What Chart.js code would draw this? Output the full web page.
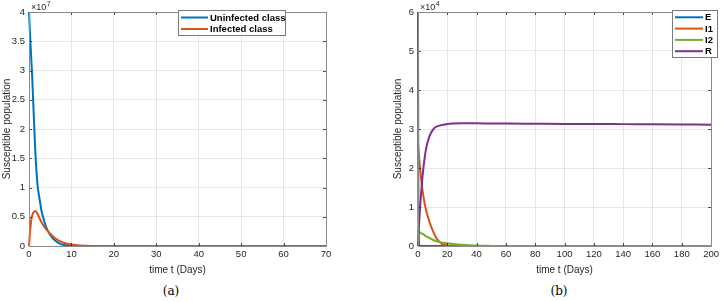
<!DOCTYPE html>
<html>
<head>
<meta charset="utf-8">
<script src="https://cdn.jsdelivr.net/npm/chart.js@4/dist/chart.umd.min.js"></script>
<style>
  html, body { margin:0; padding:0; background:#fff; overflow:hidden; width:722px; height:302px; }
  .wrap { position:absolute; top:0; height:280px; }
  #w1 { left:0; width:345px; }
  #w2 { left:380px; width:342px; }
  .cap { position:absolute; top:284px; font-family:"DejaVu Serif","Liberation Serif",serif; font-size:12px; color:#000; transform:translateX(-50%); }
</style>
</head>
<body>
<div class="wrap" id="w1"><canvas id="c1" width="345" height="280"></canvas></div>
<div class="wrap" id="w2"><canvas id="c2" width="342" height="280"></canvas></div>
<div class="cap" style="left:171px">(a)</div>
<div class="cap" style="left:559px">(b)</div>
<script>
// ---------- Panel (a) data (values in units of 10^7) ----------
const timeA = [0,0.25,0.5,0.75,1,1.5,2,2.5,3,3.5,4,4.5,5,6,7,8,9,10,12,15,20,30,40,50,60,70];
const uninfected = [4.0,3.6,3.25,2.9,2.45,1.6,1.05,0.8,0.58,0.45,0.33,0.25,0.19,0.1,0.05,0.02,0.008,0.003,0,0,0,0,0,0,0,0];
const infected   = [0,0.25,0.42,0.52,0.57,0.6,0.55,0.47,0.4,0.34,0.29,0.25,0.21,0.14,0.09,0.06,0.04,0.025,0.01,0.002,0,0,0,0,0,0];
const labelsA = ["Uninfected class","Infected class"];
const xTicksA = [0,10,20,30,40,50,60,70];
const yTicksA = [0,0.5,1,1.5,2,2.5,3,3.5,4];

// ---------- Panel (b) data (values in units of 10^4) ----------
const timeB = [0,0.25,0.5,1,2,3,4,5,6,7,8,10,12,14,16,20,25,30,40,50,60,80,100,120,140,160,180,200];
const seriesE  = [6,1.2,0.2,0.02,0,0,0,0,0,0,0,0,0,0,0,0,0,0,0,0,0,0,0,0,0,0,0,0];
const seriesI1 = [2.62,2.5,2.4,2.15,1.78,1.45,1.2,1.0,0.85,0.72,0.6,0.4,0.24,0.13,0.06,0.015,0.003,0,0,0,0,0,0,0,0,0,0,0];
const seriesI2 = [0.38,0.37,0.365,0.355,0.33,0.31,0.29,0.26,0.24,0.22,0.2,0.16,0.13,0.11,0.09,0.07,0.045,0.03,0.01,0.003,0,0,0,0,0,0,0,0];
const seriesR  = [0,0.2,0.4,0.75,1.3,1.75,2.1,2.38,2.58,2.72,2.83,2.97,3.05,3.08,3.1,3.13,3.14,3.145,3.145,3.14,3.14,3.135,3.13,3.13,3.125,3.12,3.115,3.11];
const labelsB = ["E","I1","I2","R"];
const xTicksB = [0,20,40,60,80,100,120,140,160,180,200];
const yTicksB = [0,1,2,3,4,5,6];

const COLORS = ['#0072BD','#D95319','#77AC30','#7E2F8E'];
const FONT = '"Liberation Sans", Arial, Helvetica, sans-serif';
const TICKCOL = '#262626';

function mkData(t, arr){ return t.map((x,i)=>({x:x, y:arr[i]})); }

function frame(opts){
  return {
    id:'frame',
    afterDatasetsDraw(chart){
      const {ctx, chartArea:a, scales} = chart;
      ctx.save();
      // inward ticks
      ctx.strokeStyle = '#262626'; ctx.lineWidth = 0.8;
      const tl = 3;
      scales.x.ticks.forEach(tk=>{
        const px = Math.round(scales.x.getPixelForValue(tk.value))+0.5;
        ctx.beginPath(); ctx.moveTo(px,a.bottom); ctx.lineTo(px,a.bottom-tl);
        ctx.moveTo(px,a.top); ctx.lineTo(px,a.top+tl); ctx.stroke();
      });
      scales.y.ticks.forEach(tk=>{
        const py = Math.round(scales.y.getPixelForValue(tk.value))+0.5;
        ctx.beginPath(); ctx.moveTo(a.left,py); ctx.lineTo(a.left+tl,py);
        ctx.moveTo(a.right,py); ctx.lineTo(a.right-tl,py); ctx.stroke();
      });
      // box
      ctx.strokeStyle = '#8a8a8a'; ctx.lineWidth = 1;
      ctx.strokeRect(Math.round(a.left)+0.5, Math.round(a.top)+0.5, Math.round(a.right-a.left), Math.round(a.bottom-a.top));
      // exponent
      ctx.fillStyle = TICKCOL;
      ctx.font = '9px ' + FONT;
      ctx.textBaseline = 'alphabetic';
      ctx.fillText('\u00d710', a.left+2, a.top-2);
      const w = ctx.measureText('\u00d710').width;
      ctx.font = '7px ' + FONT;
      ctx.fillText(opts.exp, a.left+2+w+0.5, a.top-6);
      // legend
      const L = opts.legend;
      const bx = a.left + L.dx, by = a.top + L.dy;
      ctx.fillStyle = '#fff';
      ctx.fillRect(bx, by, L.w, L.h);
      ctx.strokeStyle = '#7a7a7a'; ctx.lineWidth = 1;
      ctx.strokeRect(Math.round(bx)+0.5, Math.round(by)+0.5, L.w, L.h);
      chart.data.datasets.forEach((ds,i)=>{
        const yy = by + L.first + i*L.step;
        ctx.strokeStyle = ds.borderColor; ctx.lineWidth = 2;
        ctx.beginPath(); ctx.moveTo(bx+3, yy); ctx.lineTo(bx+3+L.line, yy); ctx.stroke();
        ctx.fillStyle = '#000';
        ctx.font = 'bold 9.5px ' + FONT;
        ctx.textBaseline = 'middle';
        ctx.fillText(ds.label, bx+5+L.line, yy+0.5);
      });
      ctx.restore();
    }
  };
}

function makeChart(id, t, series, labels, xt, yt, cfg){
  const n = series.length;
  const datasets = series.map((s,i)=>({
    label: labels[i],
    data: mkData(t, s),
    borderColor: COLORS[i],
    backgroundColor: COLORS[i],
    borderWidth: 2,
    pointRadius: 0,
    cubicInterpolationMode: 'monotone',
    clip: 4,
    order: n - i
  }));
  return new Chart(document.getElementById(id), {
    type:'line',
    data:{ datasets },
    options:{
      responsive:false,
      animation:false,
      devicePixelRatio:1,
      layout:{ padding:{ top:12, right:cfg.padRight, left:cfg.padLeft, bottom:0 } },
      plugins:{ legend:{display:false}, tooltip:{enabled:false} },
      scales:{
        x:{
          type:'linear', min:xt[0], max:xt[xt.length-1],
          afterBuildTicks(s){ s.ticks = xt.map(v=>({value:v})); },
          afterFit(s){ s.height = 34; },
          grid:{ color:'#e6e6e6', lineWidth:1, drawTicks:false },
          border:{ display:false },
          ticks:{ color:TICKCOL, font:{family:FONT, size:9.5}, padding:3, maxRotation:0, autoSkip:false,
                  callback:(v)=>String(v) },
          title:{ display:true, text:'time t (Days)', color:TICKCOL, font:{family:FONT, size:10}, padding:{top:0,bottom:4} }
        },
        y:{
          type:'linear', min:yt[0], max:yt[yt.length-1],
          afterBuildTicks(s){ s.ticks = yt.map(v=>({value:v})); },
          afterFit(s){ s.width = cfg.yWidth; },
          grid:{ color:'#e6e6e6', lineWidth:1, drawTicks:false },
          border:{ display:false },
          ticks:{ color:TICKCOL, font:{family:FONT, size:9.5}, padding:4, autoSkip:false,
                  callback:(v)=>String(v) },
          title:{ display:true, text:'Susceptible population', color:TICKCOL, font:{family:FONT, size:10}, padding:{top:1,bottom:0} }
        }
      }
    },
    plugins:[frame(cfg)]
  });
}

makeChart('c1', timeA, [uninfected, infected], labelsA, xTicksA, yTicksA, {
  padLeft:0, padRight:19, yWidth:29, exp:'7',
  legend:{ dx:149, dy:-2, w:107, h:25, line:27, first:7.5, step:11.5 }
});
makeChart('c2', timeB, [seriesE, seriesI1, seriesI2, seriesR], labelsB, xTicksB, yTicksB, {
  padLeft:11, padRight:8, yWidth:27, exp:'4',
  legend:{ dx:254, dy:-2, w:45, h:47, line:28, first:7.3, step:11.3 }
});
</script>
</body>
</html>
